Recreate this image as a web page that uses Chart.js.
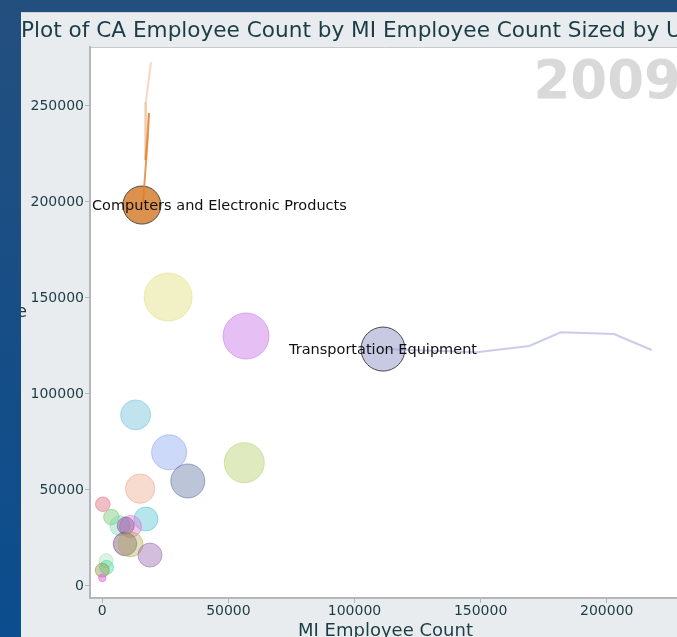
<!DOCTYPE html>
<html><head><meta charset="utf-8">
<script src="https://cdn.jsdelivr.net/npm/chart.js@4/dist/chart.umd.min.js"></script>
<style>
html,body{margin:0;padding:0;width:677px;height:637px;overflow:hidden;background:linear-gradient(#234f7e,#0b4d8e);}
#panel{position:absolute;left:21px;top:12px;width:900px;height:660px;background:#e8ecee;border-top:1px solid #cfd3d6;overflow:hidden;}
#c{position:absolute;left:0;top:0;}
</style></head><body>
<div id="panel"><canvas id="c" width="900" height="640"></canvas></div>
<script>
// ---- data (2009) ----
const industries = ['Computers and Electronic Products','Food','Fabricated Metal Products','Transportation Equipment','Miscellaneous','Chemicals','Machinery','Plastics and Rubber Products','Printing','Apparel','Beverage and Tobacco Products','Electrical Equipment','Furniture','Nonmetallic Mineral Products','Petroleum and Coal Products','Wood Products','Paper','Primary Metals','Textile Product Mills','Textile Mills','Leather Products','Other Manufacturing'];
const miCount = [15700, 26100, 57000, 111300, 13200, 26500, 56300, 33900, 15000, 200, 3600, 17300, 7000, 11200, 9300, 9000, 11200, 18900, 1500, 1700, 0, 0];
const caCount = [198400, 150500, 130200, 123400, 89100, 69600, 64200, 54700, 50700, 42600, 35900, 34900, 31400, 31000, 31400, 21900, 21700, 16100, 13200, 9700, 8200, 4200];
const usCount = [902500, 1440000, 1322500, 1210000, 562500, 765600, 1000000, 722500, 540000, 133000, 152000, 360000, 250000, 302500, 180600, 342000, 390600, 360000, 122500, 122500, 122500, 34200];
const highlighted = ['Computers and Electronic Products','Transportation Equipment'];
// trails (older years first)
const compTrailMI = [19300, 17300, 17100, 18500, 18100, 16300, 15700];
const compTrailCA = [272900, 252100, 221900, 246300, 234900, 202100, 198400];
const transTrailMI = [217800, 202900, 181800, 169300, 161700, 148500, 111300];
const transTrailCA = [122900, 131200, 132100, 125000, 123800, 121700, 123400];
const xTicks = [0, 50000, 100000, 150000, 200000];
const yTicks = [0, 50000, 100000, 150000, 200000, 250000];
const yearLabel = '2009';
const chartTitle = 'Plot of CA Employee Count by MI Employee Count Sized by US Employee Count';
const xTitle = 'MI Employee Count';
const yTitleLines = ['CA Employee', 'Count'];

// ---- styles ----
const colors = ['rgba(210,115,30,0.78)','rgba(228,228,140,0.5)','rgba(205,130,235,0.5)','rgba(128,134,190,0.44)','rgba(130,200,220,0.5)','rgba(130,160,240,0.4)','rgba(185,210,110,0.45)','rgba(80,100,150,0.38)','rgba(235,165,135,0.4)','rgba(225,110,130,0.45)','rgba(120,200,110,0.45)','rgba(90,200,210,0.45)','rgba(120,215,175,0.4)','rgba(225,110,215,0.4)','rgba(125,75,145,0.4)','rgba(125,80,125,0.45)','rgba(175,175,80,0.4)','rgba(160,110,180,0.45)','rgba(150,220,175,0.35)','rgba(60,220,150,0.4)','rgba(150,150,80,0.45)','rgba(220,90,220,0.45)'];
const edge = c => c.replace(/[\d.]+\)$/, m => Math.min(1, parseFloat(m) + 0.12) + ')');
const FONT = '"DejaVu Sans", Verdana, sans-serif';
const TXT = '#1c3c46';
const AXIS = '#b3b7bb';

const idx = industries.map((n, i) => i);
const hiIdx = idx.filter(i => highlighted.includes(industries[i]));
const loIdx = idx.filter(i => !highlighted.includes(industries[i]));
const pt = i => ({x: miCount[i], y: caCount[i], r: Math.sqrt(usCount[i]) / 50});

const decor = {
  id: 'decor',
  beforeDraw(chart) {
    const {ctx, chartArea: a} = chart;
    ctx.save();
    // chart title
    ctx.font = '21.6px ' + FONT; ctx.fillStyle = TXT;
    ctx.textAlign = 'left'; ctx.textBaseline = 'alphabetic';
    ctx.fillText(chartTitle, 0, 24);
    // plot background
    ctx.fillStyle = '#ffffff';
    ctx.fillRect(a.left, a.top, a.right - a.left, a.bottom - a.top);
    ctx.strokeStyle = '#c6cace'; ctx.lineWidth = 1;
    ctx.beginPath(); ctx.moveTo(a.left, a.top + 0.5); ctx.lineTo(a.right, a.top + 0.5); ctx.stroke();
    // y axis title (horizontal, centred lines, clipped by the panel)
    ctx.font = '18px ' + FONT; ctx.fillStyle = TXT;
    ctx.textAlign = 'center'; ctx.textBaseline = 'middle';
    const w = ctx.measureText(yTitleLines[0]).width;
    const cx = 6 - w / 2;
    yTitleLines.forEach((t, k) => ctx.fillText(t, cx, 299 + k * 21));
    ctx.restore();
  },
  beforeDatasetsDraw(chart) {
    const {ctx, chartArea: a} = chart;
    ctx.save();
    ctx.font = 'bold 53px ' + FONT; ctx.fillStyle = '#d9d9d9';
    ctx.textAlign = 'right'; ctx.textBaseline = 'alphabetic';
    ctx.fillText(yearLabel, a.right, 85);
    ctx.restore();
  },
  afterDatasetsDraw(chart) {
    const {ctx, chartArea: a} = chart;
    const meta = chart.getDatasetMeta(2);
    ctx.save();
    ctx.font = '14.5px ' + FONT; ctx.fillStyle = '#111';
    ctx.textAlign = 'left'; ctx.textBaseline = 'middle';
    meta.data.forEach((el, k) => {
      const name = industries[hiIdx[k]];
      const w = ctx.measureText(name).width;
      const x = Math.max(a.left + 2, el.x - w / 2);
      ctx.fillText(name, x, el.y + 1);
    });
    ctx.restore();
  }
};

const nC = compTrailMI.length;
new Chart(document.getElementById('c'), {
  type: 'bubble',
  data: {
    datasets: [
      {type: 'line', data: compTrailMI.map((x, i) => ({x, y: compTrailCA[i]})), borderWidth: 2, pointRadius: 0, tension: 0, fill: false,
       borderColor: 'rgba(225,125,40,0.8)',
       segment: {borderColor: c => 'rgba(225,125,40,' + (0.3 + 0.6 * c.p0DataIndex / (nC - 2)).toFixed(2) + ')'}},
      {type: 'line', data: transTrailMI.map((x, i) => ({x, y: transTrailCA[i]})), borderWidth: 2, pointRadius: 0, tension: 0, fill: false,
       borderColor: 'rgba(150,155,210,0.5)'},
      {type: 'bubble', data: hiIdx.map(pt), backgroundColor: hiIdx.map(i => colors[i]), borderColor: '#4a4a4a', borderWidth: 1},
      {type: 'bubble', data: loIdx.map(pt), backgroundColor: loIdx.map(i => colors[i]), borderColor: loIdx.map(i => edge(colors[i])), borderWidth: 1}
    ]
  },
  options: {
    responsive: false, animation: false, events: [],
    layout: {padding: {top: 34, left: 0, right: 240, bottom: 0}},
    plugins: {legend: {display: false}, tooltip: {enabled: false}, title: {display: false}},
    scales: {
      x: {type: 'linear', min: -4877, max: 229450,
        afterBuildTicks: s => { s.ticks = xTicks.map(v => ({value: v})); },
        afterFit: s => { s.height = 55; },
        ticks: {color: TXT, font: {family: FONT, size: 14}, padding: 0, maxRotation: 0, autoSkip: false, callback: v => String(v)},
        grid: {drawOnChartArea: false, drawTicks: true, tickLength: 5, color: AXIS},
        border: {display: true, color: AXIS, width: 2},
        title: {display: true, text: xTitle, color: TXT, font: {family: FONT, size: 18}, padding: {top: 0, bottom: 11}}
      },
      y: {type: 'linear', min: -6250, max: 280720,
        afterBuildTicks: s => { s.ticks = yTicks.map(v => ({value: v})); },
        afterFit: s => { s.width = 69; },
        ticks: {color: TXT, font: {family: FONT, size: 14}, padding: 1, autoSkip: false, callback: v => String(v)},
        grid: {drawOnChartArea: false, drawTicks: true, tickLength: 5, color: AXIS},
        border: {display: true, color: AXIS, width: 2}
      }
    }
  },
  plugins: [decor]
});
</script>
</body></html>
